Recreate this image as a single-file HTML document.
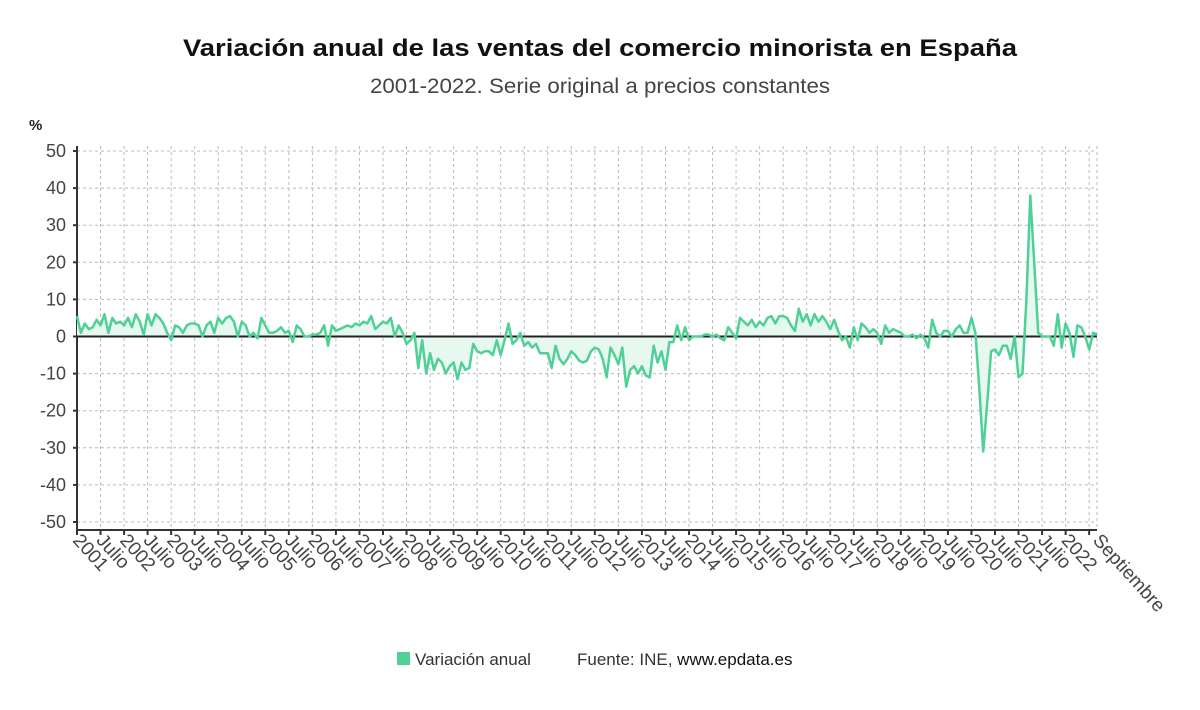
<!DOCTYPE html>
<html><head><meta charset="utf-8">
<style>
body{margin:0;background:#fff;width:1200px;height:705px;overflow:hidden;font-family:"Liberation Sans",sans-serif;}
</style></head>
<body>
<svg id="chart" width="1200" height="705" xmlns="http://www.w3.org/2000/svg">
<text x="600" y="56" text-anchor="middle" font-size="24" font-weight="bold" fill="#111" textLength="834" lengthAdjust="spacingAndGlyphs">Variación anual de las ventas del comercio minorista en España</text>
<text x="600" y="93" text-anchor="middle" font-size="21" fill="#444" textLength="460" lengthAdjust="spacingAndGlyphs">2001-2022. Serie original a precios constantes</text>
<text x="29" y="130" font-size="15" font-weight="bold" fill="#222">%</text>
<g id="grid"></g>
<g id="axes"></g>
<path id="area" fill="#e6f8f0" stroke="none"/>
<line id="zero" stroke="#222" stroke-width="2"/>
<path id="line" fill="none" stroke="#4fd196" stroke-width="2.5" stroke-linejoin="round"/>
<g id="xlabels"></g>
<rect x="397" y="652" width="13" height="13" fill="#4fd196"/>
<text x="415" y="665" font-size="17" fill="#333">Variación anual</text>
<text x="577" y="665" font-size="17" fill="#333">Fuente: INE, <tspan fill="#111">www.epdata.es</tspan></text>
</svg>
<script>
const years = ["2001","2002","2003","2004","2005","2006","2007","2008","2009","2010","2011","2012","2013","2014","2015","2016","2017","2018","2019","2020","2021","2022"];
const yTicks = [50,40,30,20,10,0,-10,-20,-30,-40,-50];
const v2001 = [5.5,1,3.5,2,2.5,4.5,3,6,1,5,3.5,4];
const v2002 = [3,5,2.5,6,4,0.5,6,3,6,5,3.5,1];
const v2003 = [-1,3,2.5,1,3,3.5,3.5,3,0,3,4,1];
const v2004 = [5,3.5,5,5.5,4,0,4,3,0,1,-0.5,5];
const v2005 = [3,1,1,1.5,2.5,1,1.5,-1.5,3,2,0,0];
const v2006 = [0.5,0.5,1,3,-2.5,3,1.5,2,2.5,3,2.5,3.5];
const v2007 = [3,4,3.5,5.5,2,3,4,3.5,5,0,3,1];
const v2008 = [-2,-1,1,-8.5,-1,-10,-4.5,-9,-6,-7,-10,-8];
const v2009 = [-7,-11.5,-7,-9,-8.5,-2,-4,-4.5,-4,-4,-5,-1];
const v2010 = [-5,-1,3.5,-2,-1,1,-2.5,-1.5,-3,-2,-4.5,-4.5];
const v2011 = [-4.5,-8.5,-2.5,-6,-7.5,-6,-4,-5,-6.5,-7,-6.5,-4];
const v2012 = [-3,-3.5,-6,-11,-3,-5,-7.5,-3,-13.5,-9,-8,-10];
const v2013 = [-8,-10.5,-11,-2.5,-7,-4,-9,-1.5,-1.5,3,-1,2.5];
const v2014 = [-1,0,0,0,0.5,0.5,0,0.5,-0.5,-1,2.5,1];
const v2015 = [-0.5,5,4,3,4.5,2.5,4,3,5,5.5,3.5,5.5];
const v2016 = [5.5,5,3,1.5,7.5,4,6,3,6,4,5.5,4];
const v2017 = [2,4.5,1.5,-1,0,-3,2.5,-1,3.5,2.5,1,2];
const v2018 = [1,-2,3,1,2,1.5,1,0,0,0.5,-0.5,0.5];
const v2019 = [-0.5,-3,4.5,1,0,1.5,1.5,0,2,3,1,1];
const v2020 = [5,1,-14,-31,-18,-4,-3.5,-5,-2.5,-2.5,-6,0];
const v2021 = [-11,-10,10,38,20,1,0,0,0,-2.5,6,-3];
const v2022 = [3.5,1,-5.5,3,2.5,0,-3.5,1,0.5];
const values = [].concat(v2001,v2002,v2003,v2004,v2005,v2006,v2007,v2008,v2009,v2010,v2011,v2012,v2013,v2014,v2015,v2016,v2017,v2018,v2019,v2020,v2021,v2022);

const NS="http://www.w3.org/2000/svg";
const X0=77, X1=1097, Y0=151, Y1=522;
const n=values.length;
const xs=i=>X0+(X1-X0)*i/(n-1);
const ys=v=>Y0+(50-v)*(Y1-Y0)/100;
function mk(tag,attrs,parent){const e=document.createElementNS(NS,tag);for(const k in attrs)e.setAttribute(k,attrs[k]);parent.appendChild(e);return e;}
const grid=document.getElementById('grid'), axes=document.getElementById('axes'), xl=document.getElementById('xlabels');
yTicks.forEach(t=>{
  const g=mk('line',{x1:X0,x2:X1,y1:ys(t),y2:ys(t),stroke:'#bbb','stroke-dasharray':'3,3','stroke-width':1},grid);
  
  
  const tk=mk('line',{x1:X0-4,x2:X0,y1:ys(t),y2:ys(t),stroke:'#333','stroke-width':2},axes);
  
  
  const tx=mk('text',{x:X0-11,y:ys(t)+6,'text-anchor':'end','font-size':18,fill:'#444'},axes);
  
  
  tx.textContent=t;
});
const xlabs=[];
years.forEach(y=>{xlabs.push(y);xlabs.push('Julio');});
function xlabel(x,txt){
  const tx=mk('text',{x:x-5,y:Y1+19,'font-size':19,fill:'#444',transform:`rotate(48 ${x-5} ${Y1+19})`},xl);
  
  
  tx.textContent=txt;
}
for(let k=0;k<xlabs.length;k++){
  const i=k*6; if(i>=n) break;
  const x=xs(i);
  const g=mk('line',{x1:x,x2:x,y1:Y0-5,y2:Y1+8,stroke:'#bbb','stroke-dasharray':'3,3','stroke-width':1},grid);
  
  
  const tk=mk('line',{x1:x,x2:x,y1:Y1+8,y2:Y1+13,stroke:'#333','stroke-width':2},axes);
  
  
  if(n-1-i>=6) xlabel(x,xlabs[k]);
}
{const x=xs(n-1);
 const g=mk('line',{x1:x,x2:x,y1:Y0-5,y2:Y1+8,stroke:'#bbb','stroke-dasharray':'3,3','stroke-width':1},grid);
 
 
 xlabel(x,'Septiembre');}
const ax=mk('line',{x1:X0,x2:X0,y1:Y0-5,y2:Y1+8,stroke:'#333','stroke-width':2},axes);


const bx=mk('line',{x1:X0,x2:X1,y1:Y1+8,y2:Y1+8,stroke:'#333','stroke-width':2},axes);


const z=document.getElementById('zero');
z.setAttribute('x1',X0);z.setAttribute('x2',X1);z.setAttribute('y1',ys(0));z.setAttribute('y2',ys(0));
let d='';values.forEach((v,i)=>{d+=(i?'L':'M')+xs(i).toFixed(1)+','+ys(v).toFixed(1);});
document.getElementById('line').setAttribute('d',d);
document.getElementById('area').setAttribute('d',d+'L'+xs(n-1)+','+ys(0)+'L'+X0+','+ys(0)+'Z');
</script>
</body></html>
